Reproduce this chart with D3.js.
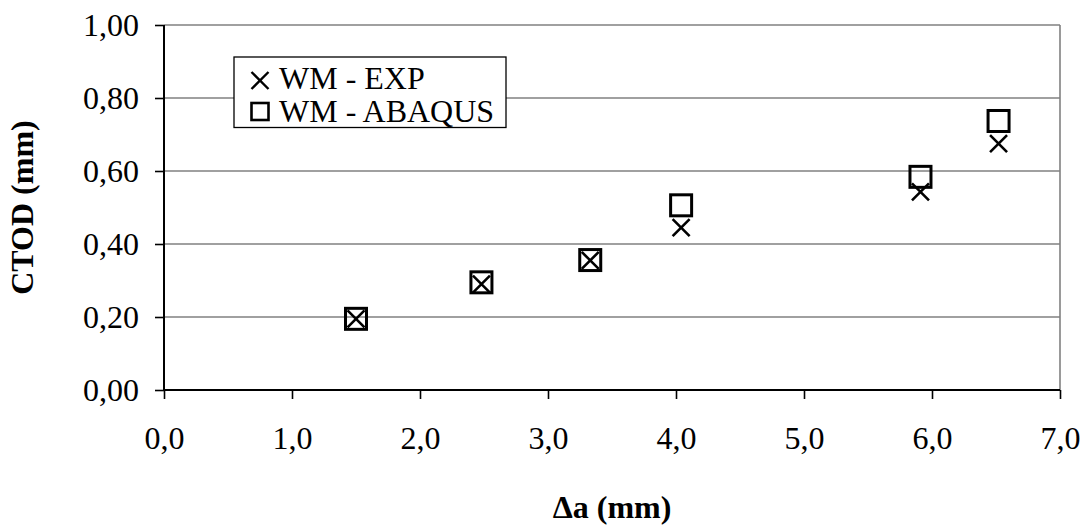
<!DOCTYPE html>
<html>
<head>
<meta charset="utf-8">
<script src="https://cdn.jsdelivr.net/npm/d3@7"></script>
<style>
  body { margin: 0; background: #fff; }
  text { font-family: "Liberation Serif", "Times New Roman", serif; fill: #000; }
</style>
</head>
<body>
<div id="svgcontainer"></div>
<script>
// data
var deltaA     = [1.50, 2.48, 3.33, 4.04, 5.91, 6.52];
var ctodExp    = [0.195, 0.290, 0.355, 0.445, 0.543, 0.675];
var ctodAbaqus = [0.195, 0.295, 0.356, 0.506, 0.584, 0.737];
var xTicks = [0, 1, 2, 3, 4, 5, 6, 7];
var yTicks = [0, 0.2, 0.4, 0.6, 0.8, 1.0];
var seriesNames = ["WM - EXP", "WM - ABAQUS"];

var width = 1084, height = 527;
var plotLeft = 164, plotTop = 25, plotRight = 1060, plotBottom = 390;

var loc = d3.formatLocale({decimal: ",", thousands: ".", grouping: [3], currency: ["", ""]});

var x = d3.scaleLinear().domain([0, 7]).range([plotLeft, plotRight]);
var y = d3.scaleLinear().domain([0, 1]).range([plotBottom, plotTop]);

var svg = d3.select("#svgcontainer")
   .append("svg")
   .attr("width", width)
   .attr("height", height);

// gridlines
svg.append("g")
   .selectAll("line")
   .data(yTicks.filter(function(d){ return d > 0; }))
   .join("line")
   .attr("x1", plotLeft).attr("x2", plotRight)
   .attr("y1", function(d){ return y(d); })
   .attr("y2", function(d){ return y(d); })
   .attr("stroke", "#808080")
   .attr("stroke-width", 1.6);

// right border
svg.append("line")
   .attr("x1", plotRight).attr("x2", plotRight)
   .attr("y1", plotTop).attr("y2", plotBottom)
   .attr("stroke", "#808080")
   .attr("stroke-width", 1.6);

// axes
var yAxis = svg.append("g")
   .attr("transform", "translate(" + plotLeft + ",0)")
   .call(d3.axisLeft(y).tickValues(yTicks).tickFormat(loc.format(".2f")).tickSize(9).tickPadding(16));

var xAxis = svg.append("g")
   .attr("transform", "translate(0," + plotBottom + ")")
   .call(d3.axisBottom(x).tickValues(xTicks).tickFormat(loc.format(".1f")).tickSize(9).tickPadding(27));

[yAxis, xAxis].forEach(function(a){
   a.select(".domain").attr("stroke", "#000").attr("stroke-width", 2);
   a.selectAll(".tick line").attr("stroke", "#000").attr("stroke-width", 1.6);
   a.selectAll(".tick text")
    .style("font-family", "'Liberation Serif', 'Times New Roman', serif")
    .style("font-size", "32px")
    .attr("fill", "#000");
});
xAxis.select(".domain").attr("d", "M" + plotLeft + ",0H" + plotRight);
yAxis.select(".domain").attr("d", "M0," + plotBottom + "V" + plotTop);

// axis titles
svg.append("text")
   .attr("transform", "translate(" + 26 + "," + ((plotTop + plotBottom) / 2) + ") rotate(-90)")
   .attr("text-anchor", "middle")
   .attr("dominant-baseline", "middle")
   .style("font-size", "32px")
   .style("font-weight", "bold")
   .text("CTOD (mm)");

svg.append("text")
   .attr("x", (plotLeft + plotRight) / 2)
   .attr("y", 518)
   .attr("text-anchor", "middle")
   .style("font-size", "32px")
   .style("font-weight", "bold")
   .text("\u0394a (mm)");

function cross(g, cx, cy, s, w) {
   g.append("path")
    .attr("d", "M" + (cx - s) + "," + (cy - s) + "L" + (cx + s) + "," + (cy + s) +
               "M" + (cx - s) + "," + (cy + s) + "L" + (cx + s) + "," + (cy - s))
    .attr("stroke", "#000")
    .attr("stroke-width", w)
    .attr("fill", "none");
}

// markers
var marks = svg.append("g");
deltaA.forEach(function(d, i){
   marks.append("rect")
      .attr("x", x(d) - 10.5)
      .attr("y", y(ctodAbaqus[i]) - 10.5)
      .attr("width", 21)
      .attr("height", 21)
      .attr("fill", "none")
      .attr("stroke", "#000")
      .attr("stroke-width", 3);
});
deltaA.forEach(function(d, i){
   cross(marks, x(d), y(ctodExp[i]), 8.5, 2.6);
});

// legend
var legend = svg.append("g");
legend.append("rect")
   .attr("x", 234).attr("y", 57)
   .attr("width", 272).attr("height", 70.5)
   .attr("fill", "#fff")
   .attr("stroke", "#000")
   .attr("stroke-width", 1.3);

cross(legend, 260, 80.5, 8.5, 2.4);
legend.append("rect")
   .attr("x", 251.5).attr("y", 103)
   .attr("width", 17).attr("height", 17)
   .attr("fill", "none")
   .attr("stroke", "#000")
   .attr("stroke-width", 2.6);

legend.selectAll("text.lbl")
   .data(seriesNames)
   .join("text")
   .attr("class", "lbl")
   .attr("x", 279)
   .attr("y", function(d, i){ return 89 + i * 33; })
   .style("font-size", "32px")
   .text(function(d){ return d; });
</script>
</body>
</html>
